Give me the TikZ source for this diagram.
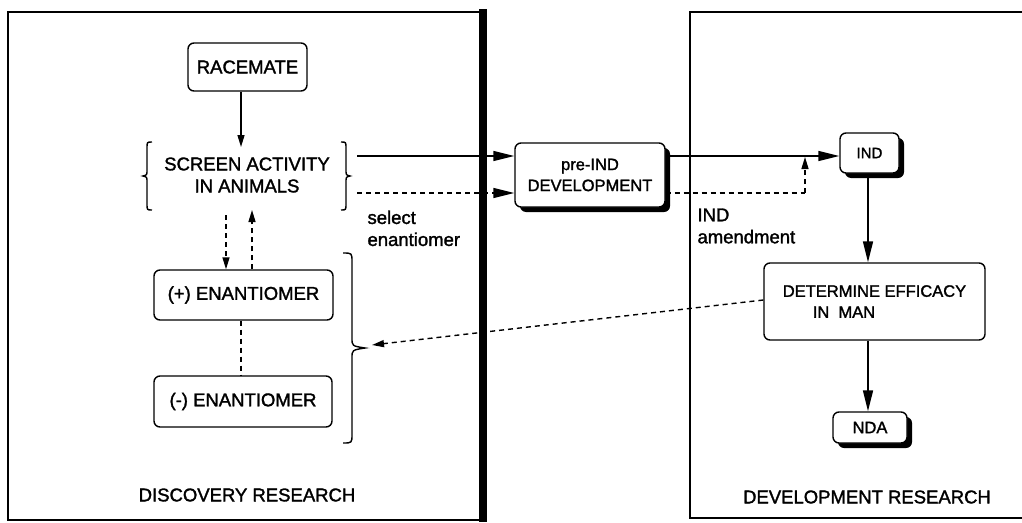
\documentclass[tikz,border=0pt]{standalone}
\usepackage{fontspec}
\setmainfont{Liberation Sans}[FakeBold=1.6]
\usetikzlibrary{arrows.meta,shadows,decorations.pathreplacing}
\tikzset{
  rbox/.style={draw, line width=1.4pt, rounded corners=6pt, fill=white, inner sep=0pt, align=center},
  sbox/.style={rbox, drop shadow={shadow xshift=5pt, shadow yshift=-5pt, fill=black, opacity=1}},
  big/.style={font=\fontsize{18.5}{22}\selectfont},
  mid/.style={font=\fontsize{16.5}{21}\selectfont},
  sml/.style={font=\fontsize{15}{19}\selectfont},
  arr/.style={line width=1.4pt, -{Triangle[length=12pt,width=7pt]}},
  barr/.style={line width=1.6pt, -{Triangle[length=21pt,width=10pt]}},
  darr/.style={arr, dashed, dash pattern=on 5pt off 4pt},
  dbarr/.style={barr, dashed, dash pattern=on 5pt off 4pt},
  dln/.style={line width=1.4pt, dashed, dash pattern=on 5pt off 4pt},
}
\begin{document}
\begin{tikzpicture}[x=1pt,y=-1pt]
\useasboundingbox (0,0) rectangle (1022,522);
% panels
\draw[line width=2pt] (484,12) -- (8,12) -- (8,520) -- (484,520);
\draw[line width=8pt] (483,9) -- (483,522);
\draw[line width=1.6pt] (1022,12) -- (690,12) -- (690,518) -- (1022,518);
% left nodes
\node[rbox, big, minimum width=119pt, minimum height=48pt] (race) at (247.5,67) {RACEMATE};
\node[big, align=center] (screen) at (247,175) {SCREEN ACTIVITY\\IN ANIMALS};
\node[rbox, big, minimum width=179pt, minimum height=50pt] (plus) at (243.5,295) {(+) ENANTIOMER};
\node[rbox, big, minimum width=178pt, minimum height=51pt] (minus) at (243,401.5) {(-) ENANTIOMER};
\node[big] (disc) at (247,495) {DISCOVERY RESEARCH};
% braces around screen
\coordinate (lbt) at (152,142); \coordinate (lbb) at (152,210);
\coordinate (rbt) at (341,142); \coordinate (rbb) at (341,210);
\draw[line width=1.4pt] (lbt) .. controls (147,142) .. (147,148) -- (147,170) .. controls (147,175) .. (143,176) .. controls (147,177) .. (147,182) -- (147,204) .. controls (147,210) .. (lbb);
\draw[line width=1.4pt] (rbt) .. controls (346,142) .. (346,148) -- (346,170) .. controls (346,175) .. (350,176) .. controls (346,177) .. (346,182) -- (346,204) .. controls (346,210) .. (rbb);
% big brace
\coordinate (bbt) at (343,253); \coordinate (bbb) at (343,443); \coordinate (btip) at (365,348);
\draw[line width=1.4pt] (bbt) .. controls (352,253) .. (352,262) -- (352,338) .. controls (352,346) .. (btip) .. controls (352,350) .. (352,358) -- (352,434) .. controls (352,443) .. (bbb);
% left arrows
\coordinate (ra) at (241,147);
\draw[arr] ([xshift=-6.5pt]race.south) -- (ra);
\coordinate (d1s) at (226,215); \coordinate (u1e) at (252,210);
\draw[darr] (d1s) -- (plus.north -| d1s);
\draw[darr] (plus.north -| u1e) -- (u1e);
\coordinate (pm) at (241,0);
\draw[dln] (plus.south -| pm) -- (minus.north -| pm);
% middle and right nodes
\node[sbox, mid, minimum width=150pt, minimum height=64pt] (pre) at (590,175) {pre-IND\\DEVELOPMENT};
\node[sbox, sml, minimum width=59pt, minimum height=40pt] (ind) at (869.5,153) {IND};
\node[rbox, mid, minimum width=221pt, minimum height=77pt, align=left] (det) at (874.5,301.5) {DETERMINE EFFICACY\\\hspace*{30pt}IN\ \ MAN};
\node[sbox, mid, minimum width=74pt, minimum height=31pt] (nda) at (870,427.5) {NDA};
\node[big] (devr) at (867,497) {DEVELOPMENT RESEARCH};
\node[big, anchor=north west, align=left] (sel) at (364,207) {select\\enantiomer};
\node[big, anchor=north west, align=left] (amd) at (694,205) {IND\\amendment};
% connectors
\coordinate (l1) at (357,156); \coordinate (l2) at (357,193);
\draw[barr] (l1) -- (pre.west |- l1);
\draw[dbarr] (l2) -- (pre.west |- l2);
\coordinate (ln1) at (0,156); \coordinate (turn) at (805,193);
\draw[barr] (pre.east |- ln1) -- (ind.west |- ln1);
\draw[dln] (pre.east |- turn) -- (turn);
\draw[darr] (turn) -- (805,157);
\coordinate (vx) at (868,0);
\draw[barr] (ind.south -| vx) -- (det.north -| vx);
\draw[barr] (det.south -| vx) -- (nda.north -| vx);
\coordinate (bt) at (372,345);
\draw[darr] ([yshift=1.5pt]det.west) -- (bt);
\end{tikzpicture}
\end{document}
